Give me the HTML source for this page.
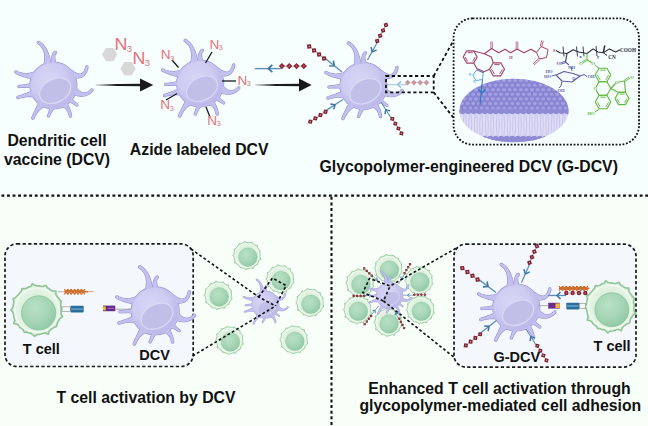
<!DOCTYPE html>
<html><head><meta charset="utf-8"><style>
html,body{margin:0;padding:0;background:#F4FCFC;}
svg{display:block;}
</style></head><body>
<svg width="648" height="426" viewBox="0 0 648 426">
<defs><radialGradient id="bodyg" cx="0.4" cy="0.38" r="0.6"><stop offset="0" stop-color="#D7D6F6"/><stop offset="0.65" stop-color="#CDCBF1"/><stop offset="1" stop-color="#BDBAEA"/></radialGradient><symbol id="dc" overflow="visible"><g fill="#9591D3" stroke="#9591D3" stroke-width="1.1" stroke-linejoin="round"><path d="M-3.60,-11.40 L-2.25,-18.86 L-2.52,-21.01 L-2.84,-23.12 L-3.21,-25.14 L-3.62,-27.07 L-4.09,-28.90 L-4.62,-30.64 L-5.19,-32.29 L-5.83,-33.85 L-6.52,-35.32 L-7.27,-36.70 L-8.08,-38.01 L-8.95,-39.22 L-9.89,-40.36 L-10.90,-41.41 L-11.98,-42.38 L-13.13,-43.27 L-14.31,-44.04 L-14.93,-44.25 L-15.56,-44.12 L-16.04,-43.69 L-16.25,-43.07 L-16.12,-42.44 L-15.69,-41.96 L-14.59,-41.24 L-13.62,-40.46 L-12.72,-39.60 L-11.91,-38.66 L-11.18,-37.64 L-10.54,-36.53 L-9.99,-35.34 L-9.53,-34.07 L-9.16,-32.72 L-8.89,-31.29 L-8.71,-29.78 L-8.63,-28.20 L-8.65,-26.54 L-8.77,-24.81 L-8.99,-23.01 L-9.32,-21.15 L-9.75,-19.14Z"/><path d="M0.30,-12.00 L3.45,-20.53 L2.99,-21.66 L2.60,-22.71 L2.26,-23.72 L1.98,-24.67 L1.75,-25.58 L1.58,-26.43 L1.46,-27.23 L1.40,-27.97 L1.38,-28.66 L1.42,-29.29 L1.49,-29.86 L1.61,-30.37 L1.77,-30.82 L1.96,-31.20 L2.18,-31.53 L2.43,-31.80 L2.76,-32.07 L3.12,-32.58 L3.18,-33.19 L2.93,-33.76 L2.42,-34.12 L1.81,-34.18 L1.24,-33.93 L0.79,-33.56 L0.32,-33.07 L-0.09,-32.53 L-0.46,-31.94 L-0.78,-31.30 L-1.06,-30.61 L-1.31,-29.88 L-1.53,-29.09 L-1.73,-28.25 L-1.89,-27.35 L-2.03,-26.40 L-2.15,-25.39 L-2.25,-24.33 L-2.33,-23.20 L-2.39,-22.01 L-2.43,-20.75 L-2.45,-19.47Z"/><path d="M10.20,-7.20 L15.52,-8.83 L17.34,-8.33 L19.15,-7.93 L20.87,-7.65 L22.50,-7.51 L24.04,-7.50 L25.50,-7.64 L26.86,-7.92 L28.12,-8.36 L29.28,-8.94 L30.32,-9.67 L31.25,-10.53 L32.06,-11.52 L32.77,-12.63 L33.38,-13.86 L33.90,-15.21 L34.33,-16.68 L34.67,-18.24 L34.64,-18.86 L34.31,-19.39 L33.76,-19.67 L33.14,-19.64 L32.61,-19.31 L32.33,-18.76 L32.00,-17.28 L31.61,-16.00 L31.14,-14.89 L30.60,-13.93 L30.01,-13.14 L29.36,-12.52 L28.66,-12.05 L27.92,-11.73 L27.14,-11.55 L26.30,-11.50 L25.40,-11.59 L24.44,-11.81 L23.40,-12.17 L22.29,-12.68 L21.12,-13.35 L19.87,-14.16 L18.48,-15.17Z"/><path d="M12.00,3.00 L17.73,8.29 L19.31,8.91 L20.93,9.47 L22.49,9.93 L24.00,10.29 L25.45,10.54 L26.86,10.68 L28.22,10.72 L29.53,10.65 L30.80,10.47 L32.01,10.18 L33.18,9.79 L34.31,9.30 L35.40,8.70 L36.45,8.00 L37.46,7.21 L38.45,6.30 L39.37,5.33 L39.67,4.78 L39.65,4.16 L39.33,3.63 L38.78,3.33 L38.16,3.35 L37.63,3.67 L36.77,4.58 L35.91,5.34 L35.04,5.97 L34.16,6.47 L33.26,6.85 L32.36,7.10 L31.45,7.22 L30.54,7.23 L29.62,7.10 L28.71,6.86 L27.79,6.50 L26.88,6.02 L25.97,5.41 L25.06,4.68 L24.15,3.84 L23.25,2.86 L22.27,1.71Z"/><path d="M9.60,8.40 L14.50,16.00 L15.09,16.20 L15.66,16.40 L16.22,16.62 L16.77,16.84 L17.31,17.08 L17.83,17.32 L18.34,17.57 L18.83,17.83 L19.32,18.10 L19.79,18.37 L20.26,18.65 L20.71,18.93 L21.16,19.22 L21.59,19.51 L22.02,19.80 L22.45,20.10 L22.86,20.39 L23.39,20.59 L23.95,20.50 L24.39,20.14 L24.59,19.61 L24.50,19.05 L24.14,18.61 L23.73,18.31 L23.32,18.01 L22.90,17.70 L22.49,17.37 L22.08,17.04 L21.68,16.70 L21.27,16.34 L20.87,15.98 L20.47,15.60 L20.08,15.20 L19.69,14.79 L19.31,14.37 L18.94,13.93 L18.57,13.47 L18.20,13.00 L17.85,12.51 L17.50,12.00Z"/><path d="M6.00,10.80 L7.87,20.46 L8.70,20.80 L9.46,21.14 L10.17,21.53 L10.84,21.96 L11.48,22.43 L12.08,22.95 L12.63,23.50 L13.15,24.08 L13.62,24.70 L14.04,25.36 L14.42,26.04 L14.76,26.75 L15.06,27.49 L15.31,28.25 L15.51,29.03 L15.68,29.83 L15.81,30.68 L16.06,31.25 L16.57,31.62 L17.18,31.69 L17.75,31.44 L18.12,30.93 L18.19,30.32 L18.05,29.42 L17.88,28.51 L17.68,27.61 L17.45,26.73 L17.20,25.86 L16.92,25.00 L16.62,24.14 L16.29,23.29 L15.93,22.44 L15.55,21.59 L15.15,20.74 L14.71,19.88 L14.25,19.02 L13.76,18.16 L13.23,17.28 L12.67,16.40 L12.13,15.54Z"/><path d="M-0.60,12.60 L-3.32,20.07 L-3.37,20.73 L-3.44,21.37 L-3.52,22.01 L-3.62,22.64 L-3.74,23.26 L-3.86,23.87 L-4.01,24.47 L-4.16,25.06 L-4.33,25.64 L-4.51,26.22 L-4.69,26.79 L-4.89,27.35 L-5.10,27.90 L-5.32,28.45 L-5.54,28.99 L-5.77,29.52 L-6.01,30.05 L-6.09,30.62 L-5.89,31.15 L-5.45,31.51 L-4.88,31.59 L-4.35,31.39 L-3.99,30.95 L-3.76,30.41 L-3.52,29.88 L-3.27,29.34 L-3.01,28.81 L-2.75,28.27 L-2.48,27.73 L-2.20,27.20 L-1.91,26.66 L-1.60,26.13 L-1.29,25.60 L-0.96,25.07 L-0.62,24.54 L-0.26,24.01 L0.11,23.49 L0.50,22.97 L0.90,22.45 L1.32,21.93Z"/><path d="M-6.60,10.80 L-13.68,15.38 L-14.15,16.38 L-14.65,17.39 L-15.14,18.39 L-15.62,19.37 L-16.10,20.35 L-16.58,21.32 L-17.05,22.28 L-17.52,23.24 L-17.99,24.20 L-18.46,25.16 L-18.92,26.12 L-19.38,27.08 L-19.84,28.06 L-20.29,29.04 L-20.74,30.03 L-21.18,31.03 L-21.60,32.03 L-21.69,32.65 L-21.46,33.22 L-20.97,33.60 L-20.35,33.69 L-19.78,33.46 L-19.40,32.97 L-18.98,31.99 L-18.54,31.04 L-18.08,30.12 L-17.59,29.22 L-17.07,28.35 L-16.51,27.50 L-15.93,26.69 L-15.31,25.91 L-14.67,25.16 L-13.98,24.45 L-13.27,23.78 L-12.53,23.14 L-11.75,22.55 L-10.94,22.00 L-10.11,21.50 L-9.24,21.05 L-8.32,20.62Z"/><path d="M-11.40,4.80 L-19.59,4.55 L-20.60,5.05 L-21.62,5.53 L-22.62,5.99 L-23.62,6.43 L-24.61,6.85 L-25.59,7.25 L-26.56,7.64 L-27.52,8.01 L-28.48,8.36 L-29.43,8.71 L-30.37,9.04 L-31.31,9.36 L-32.24,9.67 L-33.16,9.97 L-34.07,10.27 L-34.98,10.57 L-35.87,10.86 L-36.39,11.20 L-36.67,11.75 L-36.64,12.37 L-36.30,12.89 L-35.75,13.17 L-35.13,13.14 L-34.24,12.85 L-33.36,12.58 L-32.45,12.33 L-31.54,12.09 L-30.61,11.88 L-29.67,11.68 L-28.71,11.52 L-27.74,11.37 L-26.75,11.26 L-25.75,11.17 L-24.74,11.11 L-23.72,11.09 L-22.68,11.09 L-21.64,11.13 L-20.58,11.20 L-19.51,11.31 L-18.41,11.45Z"/><path d="M-12.60,0.00 L-21.18,-2.49 L-21.99,-2.24 L-22.79,-2.00 L-23.60,-1.78 L-24.40,-1.58 L-25.20,-1.39 L-25.99,-1.21 L-26.79,-1.06 L-27.58,-0.91 L-28.37,-0.78 L-29.16,-0.66 L-29.94,-0.55 L-30.72,-0.46 L-31.50,-0.37 L-32.27,-0.29 L-33.05,-0.22 L-33.82,-0.16 L-34.58,-0.10 L-35.12,0.09 L-35.49,0.52 L-35.60,1.08 L-35.41,1.62 L-34.98,1.99 L-34.42,2.10 L-33.65,2.04 L-32.88,1.99 L-32.11,1.94 L-31.33,1.90 L-30.55,1.87 L-29.76,1.85 L-28.97,1.84 L-28.17,1.84 L-27.38,1.85 L-26.57,1.88 L-25.76,1.92 L-24.95,1.98 L-24.13,2.05 L-23.31,2.13 L-22.49,2.24 L-21.66,2.36 L-20.82,2.49Z"/><path d="M-10.80,-6.00 L-18.28,-13.99 L-19.60,-13.50 L-20.86,-13.09 L-22.10,-12.74 L-23.33,-12.46 L-24.53,-12.26 L-25.72,-12.11 L-26.88,-12.04 L-28.02,-12.03 L-29.13,-12.08 L-30.21,-12.19 L-31.26,-12.36 L-32.29,-12.59 L-33.27,-12.88 L-34.23,-13.22 L-35.15,-13.61 L-36.03,-14.05 L-36.91,-14.54 L-37.51,-14.70 L-38.11,-14.54 L-38.54,-14.09 L-38.70,-13.49 L-38.54,-12.89 L-38.09,-12.46 L-37.17,-11.93 L-36.20,-11.42 L-35.20,-10.95 L-34.17,-10.49 L-33.11,-10.06 L-32.03,-9.65 L-30.91,-9.26 L-29.76,-8.89 L-28.58,-8.53 L-27.36,-8.18 L-26.10,-7.84 L-24.81,-7.52 L-23.47,-7.20 L-22.09,-6.90 L-20.66,-6.59 L-19.19,-6.30 L-17.72,-6.01Z"/><circle cx="0" cy="0" r="23.5"/></g><g fill="#C2C0EC"><path d="M-3.60,-11.40 L-2.25,-18.86 L-2.52,-21.01 L-2.84,-23.12 L-3.21,-25.14 L-3.62,-27.07 L-4.09,-28.90 L-4.62,-30.64 L-5.19,-32.29 L-5.83,-33.85 L-6.52,-35.32 L-7.27,-36.70 L-8.08,-38.01 L-8.95,-39.22 L-9.89,-40.36 L-10.90,-41.41 L-11.98,-42.38 L-13.13,-43.27 L-14.31,-44.04 L-14.93,-44.25 L-15.56,-44.12 L-16.04,-43.69 L-16.25,-43.07 L-16.12,-42.44 L-15.69,-41.96 L-14.59,-41.24 L-13.62,-40.46 L-12.72,-39.60 L-11.91,-38.66 L-11.18,-37.64 L-10.54,-36.53 L-9.99,-35.34 L-9.53,-34.07 L-9.16,-32.72 L-8.89,-31.29 L-8.71,-29.78 L-8.63,-28.20 L-8.65,-26.54 L-8.77,-24.81 L-8.99,-23.01 L-9.32,-21.15 L-9.75,-19.14Z"/><path d="M0.30,-12.00 L3.45,-20.53 L2.99,-21.66 L2.60,-22.71 L2.26,-23.72 L1.98,-24.67 L1.75,-25.58 L1.58,-26.43 L1.46,-27.23 L1.40,-27.97 L1.38,-28.66 L1.42,-29.29 L1.49,-29.86 L1.61,-30.37 L1.77,-30.82 L1.96,-31.20 L2.18,-31.53 L2.43,-31.80 L2.76,-32.07 L3.12,-32.58 L3.18,-33.19 L2.93,-33.76 L2.42,-34.12 L1.81,-34.18 L1.24,-33.93 L0.79,-33.56 L0.32,-33.07 L-0.09,-32.53 L-0.46,-31.94 L-0.78,-31.30 L-1.06,-30.61 L-1.31,-29.88 L-1.53,-29.09 L-1.73,-28.25 L-1.89,-27.35 L-2.03,-26.40 L-2.15,-25.39 L-2.25,-24.33 L-2.33,-23.20 L-2.39,-22.01 L-2.43,-20.75 L-2.45,-19.47Z"/><path d="M10.20,-7.20 L15.52,-8.83 L17.34,-8.33 L19.15,-7.93 L20.87,-7.65 L22.50,-7.51 L24.04,-7.50 L25.50,-7.64 L26.86,-7.92 L28.12,-8.36 L29.28,-8.94 L30.32,-9.67 L31.25,-10.53 L32.06,-11.52 L32.77,-12.63 L33.38,-13.86 L33.90,-15.21 L34.33,-16.68 L34.67,-18.24 L34.64,-18.86 L34.31,-19.39 L33.76,-19.67 L33.14,-19.64 L32.61,-19.31 L32.33,-18.76 L32.00,-17.28 L31.61,-16.00 L31.14,-14.89 L30.60,-13.93 L30.01,-13.14 L29.36,-12.52 L28.66,-12.05 L27.92,-11.73 L27.14,-11.55 L26.30,-11.50 L25.40,-11.59 L24.44,-11.81 L23.40,-12.17 L22.29,-12.68 L21.12,-13.35 L19.87,-14.16 L18.48,-15.17Z"/><path d="M12.00,3.00 L17.73,8.29 L19.31,8.91 L20.93,9.47 L22.49,9.93 L24.00,10.29 L25.45,10.54 L26.86,10.68 L28.22,10.72 L29.53,10.65 L30.80,10.47 L32.01,10.18 L33.18,9.79 L34.31,9.30 L35.40,8.70 L36.45,8.00 L37.46,7.21 L38.45,6.30 L39.37,5.33 L39.67,4.78 L39.65,4.16 L39.33,3.63 L38.78,3.33 L38.16,3.35 L37.63,3.67 L36.77,4.58 L35.91,5.34 L35.04,5.97 L34.16,6.47 L33.26,6.85 L32.36,7.10 L31.45,7.22 L30.54,7.23 L29.62,7.10 L28.71,6.86 L27.79,6.50 L26.88,6.02 L25.97,5.41 L25.06,4.68 L24.15,3.84 L23.25,2.86 L22.27,1.71Z"/><path d="M9.60,8.40 L14.50,16.00 L15.09,16.20 L15.66,16.40 L16.22,16.62 L16.77,16.84 L17.31,17.08 L17.83,17.32 L18.34,17.57 L18.83,17.83 L19.32,18.10 L19.79,18.37 L20.26,18.65 L20.71,18.93 L21.16,19.22 L21.59,19.51 L22.02,19.80 L22.45,20.10 L22.86,20.39 L23.39,20.59 L23.95,20.50 L24.39,20.14 L24.59,19.61 L24.50,19.05 L24.14,18.61 L23.73,18.31 L23.32,18.01 L22.90,17.70 L22.49,17.37 L22.08,17.04 L21.68,16.70 L21.27,16.34 L20.87,15.98 L20.47,15.60 L20.08,15.20 L19.69,14.79 L19.31,14.37 L18.94,13.93 L18.57,13.47 L18.20,13.00 L17.85,12.51 L17.50,12.00Z"/><path d="M6.00,10.80 L7.87,20.46 L8.70,20.80 L9.46,21.14 L10.17,21.53 L10.84,21.96 L11.48,22.43 L12.08,22.95 L12.63,23.50 L13.15,24.08 L13.62,24.70 L14.04,25.36 L14.42,26.04 L14.76,26.75 L15.06,27.49 L15.31,28.25 L15.51,29.03 L15.68,29.83 L15.81,30.68 L16.06,31.25 L16.57,31.62 L17.18,31.69 L17.75,31.44 L18.12,30.93 L18.19,30.32 L18.05,29.42 L17.88,28.51 L17.68,27.61 L17.45,26.73 L17.20,25.86 L16.92,25.00 L16.62,24.14 L16.29,23.29 L15.93,22.44 L15.55,21.59 L15.15,20.74 L14.71,19.88 L14.25,19.02 L13.76,18.16 L13.23,17.28 L12.67,16.40 L12.13,15.54Z"/><path d="M-0.60,12.60 L-3.32,20.07 L-3.37,20.73 L-3.44,21.37 L-3.52,22.01 L-3.62,22.64 L-3.74,23.26 L-3.86,23.87 L-4.01,24.47 L-4.16,25.06 L-4.33,25.64 L-4.51,26.22 L-4.69,26.79 L-4.89,27.35 L-5.10,27.90 L-5.32,28.45 L-5.54,28.99 L-5.77,29.52 L-6.01,30.05 L-6.09,30.62 L-5.89,31.15 L-5.45,31.51 L-4.88,31.59 L-4.35,31.39 L-3.99,30.95 L-3.76,30.41 L-3.52,29.88 L-3.27,29.34 L-3.01,28.81 L-2.75,28.27 L-2.48,27.73 L-2.20,27.20 L-1.91,26.66 L-1.60,26.13 L-1.29,25.60 L-0.96,25.07 L-0.62,24.54 L-0.26,24.01 L0.11,23.49 L0.50,22.97 L0.90,22.45 L1.32,21.93Z"/><path d="M-6.60,10.80 L-13.68,15.38 L-14.15,16.38 L-14.65,17.39 L-15.14,18.39 L-15.62,19.37 L-16.10,20.35 L-16.58,21.32 L-17.05,22.28 L-17.52,23.24 L-17.99,24.20 L-18.46,25.16 L-18.92,26.12 L-19.38,27.08 L-19.84,28.06 L-20.29,29.04 L-20.74,30.03 L-21.18,31.03 L-21.60,32.03 L-21.69,32.65 L-21.46,33.22 L-20.97,33.60 L-20.35,33.69 L-19.78,33.46 L-19.40,32.97 L-18.98,31.99 L-18.54,31.04 L-18.08,30.12 L-17.59,29.22 L-17.07,28.35 L-16.51,27.50 L-15.93,26.69 L-15.31,25.91 L-14.67,25.16 L-13.98,24.45 L-13.27,23.78 L-12.53,23.14 L-11.75,22.55 L-10.94,22.00 L-10.11,21.50 L-9.24,21.05 L-8.32,20.62Z"/><path d="M-11.40,4.80 L-19.59,4.55 L-20.60,5.05 L-21.62,5.53 L-22.62,5.99 L-23.62,6.43 L-24.61,6.85 L-25.59,7.25 L-26.56,7.64 L-27.52,8.01 L-28.48,8.36 L-29.43,8.71 L-30.37,9.04 L-31.31,9.36 L-32.24,9.67 L-33.16,9.97 L-34.07,10.27 L-34.98,10.57 L-35.87,10.86 L-36.39,11.20 L-36.67,11.75 L-36.64,12.37 L-36.30,12.89 L-35.75,13.17 L-35.13,13.14 L-34.24,12.85 L-33.36,12.58 L-32.45,12.33 L-31.54,12.09 L-30.61,11.88 L-29.67,11.68 L-28.71,11.52 L-27.74,11.37 L-26.75,11.26 L-25.75,11.17 L-24.74,11.11 L-23.72,11.09 L-22.68,11.09 L-21.64,11.13 L-20.58,11.20 L-19.51,11.31 L-18.41,11.45Z"/><path d="M-12.60,0.00 L-21.18,-2.49 L-21.99,-2.24 L-22.79,-2.00 L-23.60,-1.78 L-24.40,-1.58 L-25.20,-1.39 L-25.99,-1.21 L-26.79,-1.06 L-27.58,-0.91 L-28.37,-0.78 L-29.16,-0.66 L-29.94,-0.55 L-30.72,-0.46 L-31.50,-0.37 L-32.27,-0.29 L-33.05,-0.22 L-33.82,-0.16 L-34.58,-0.10 L-35.12,0.09 L-35.49,0.52 L-35.60,1.08 L-35.41,1.62 L-34.98,1.99 L-34.42,2.10 L-33.65,2.04 L-32.88,1.99 L-32.11,1.94 L-31.33,1.90 L-30.55,1.87 L-29.76,1.85 L-28.97,1.84 L-28.17,1.84 L-27.38,1.85 L-26.57,1.88 L-25.76,1.92 L-24.95,1.98 L-24.13,2.05 L-23.31,2.13 L-22.49,2.24 L-21.66,2.36 L-20.82,2.49Z"/><path d="M-10.80,-6.00 L-18.28,-13.99 L-19.60,-13.50 L-20.86,-13.09 L-22.10,-12.74 L-23.33,-12.46 L-24.53,-12.26 L-25.72,-12.11 L-26.88,-12.04 L-28.02,-12.03 L-29.13,-12.08 L-30.21,-12.19 L-31.26,-12.36 L-32.29,-12.59 L-33.27,-12.88 L-34.23,-13.22 L-35.15,-13.61 L-36.03,-14.05 L-36.91,-14.54 L-37.51,-14.70 L-38.11,-14.54 L-38.54,-14.09 L-38.70,-13.49 L-38.54,-12.89 L-38.09,-12.46 L-37.17,-11.93 L-36.20,-11.42 L-35.20,-10.95 L-34.17,-10.49 L-33.11,-10.06 L-32.03,-9.65 L-30.91,-9.26 L-29.76,-8.89 L-28.58,-8.53 L-27.36,-8.18 L-26.10,-7.84 L-24.81,-7.52 L-23.47,-7.20 L-22.09,-6.90 L-20.66,-6.59 L-19.19,-6.30 L-17.72,-6.01Z"/><circle cx="0" cy="0" r="23.5"/></g><circle cx="0" cy="0" r="22.5" fill="url(#bodyg)"/><ellipse cx="1.8" cy="5.2" rx="16.5" ry="11.5" transform="rotate(-28 1.8 5.2)" fill="#C1BFE8" stroke="#DAD9F5" stroke-width="1.2"/></symbol><radialGradient id="nucg" cx="0.4" cy="0.35" r="0.65"><stop offset="0" stop-color="#B8E0C5"/><stop offset="0.6" stop-color="#A7D6B7"/><stop offset="1" stop-color="#94CAA7"/></radialGradient><radialGradient id="outg" cx="0.5" cy="0.5" r="0.5"><stop offset="0.55" stop-color="#DCEFDD"/><stop offset="0.85" stop-color="#E6F4E6"/><stop offset="1" stop-color="#CDE8CF"/></radialGradient><symbol id="tc" overflow="visible"><path d="M13.13,0.00 L13.01,1.14 L13.22,2.33 L13.94,3.73 L12.58,4.58 L11.91,5.56 L11.28,6.51 L10.90,7.63 L10.66,8.94 L9.39,9.39 L8.37,9.98 L7.48,10.68 L6.66,11.53 L6.14,13.17 L4.51,12.40 L3.39,12.64 L2.30,13.05 L1.17,13.33 L0.00,13.39 L-1.26,14.40 L-2.35,13.34 L-3.37,12.58 L-4.56,12.54 L-5.59,11.98 L-6.98,12.09 L-7.55,10.78 L-8.44,10.05 L-9.42,9.42 L-10.01,8.40 L-10.98,7.69 L-12.69,7.33 L-12.07,5.63 L-12.42,4.52 L-12.58,3.37 L-12.83,2.26 L-13.15,1.15 L-14.27,0.00 L-13.24,-1.16 L-12.93,-2.28 L-12.78,-3.43 L-12.53,-4.56 L-13.07,-6.09 L-11.67,-6.74 L-10.88,-7.62 L-10.03,-8.42 L-9.35,-9.35 L-8.56,-10.20 L-8.17,-11.67 L-6.70,-11.60 L-5.54,-11.89 L-4.58,-12.58 L-3.42,-12.76 L-2.53,-14.35 L-1.17,-13.42 L-0.00,-13.06 L1.15,-13.15 L2.26,-12.82 L3.46,-12.93 L4.89,-13.44 L5.64,-12.10 L6.68,-11.56 L7.53,-10.75 L8.64,-10.29 L10.28,-10.28 L10.26,-8.61 L10.80,-7.56 L11.55,-6.67 L12.22,-5.70 L13.24,-4.82 L12.92,-3.46 L12.83,-2.26 L13.23,-1.16Z" fill="url(#outg)" stroke="#8FC596" stroke-width="0.85" stroke-linejoin="round"/><circle r="12" fill="none" stroke="#F2FAF2" stroke-width="0.8" opacity="0.8"/><circle cx="0.9" cy="1.6" r="9.3" fill="url(#nucg)" stroke="#8EC69E" stroke-width="0.5"/></symbol><symbol id="gp" overflow="visible"><g><line x1="0" y1="0" x2="21" y2="0" stroke="#5B8DB8" stroke-width="1.3"/><path d="M13.8,-3.4 L10,0 L13.8,3.4" fill="none" stroke="#3D74A3" stroke-width="1.6" stroke-linejoin="round"/><line x1="20" y1="-0.8" x2="45" y2="-0.8" stroke="#999" stroke-width="0.6"/><rect x="20.45" y="-2.85" width="4.1" height="4.1" rx="0.6" transform="rotate(45 22.50 -0.8)" fill="#80202F"/><circle cx="22.50" cy="-0.8" r="0.8" fill="#D08890"/><rect x="26.80" y="-2.85" width="4.1" height="4.1" rx="0.6" transform="rotate(45 28.85 -0.8)" fill="#80202F"/><circle cx="28.85" cy="-0.8" r="0.8" fill="#D08890"/><rect x="33.15" y="-2.85" width="4.1" height="4.1" rx="0.6" transform="rotate(45 35.20 -0.8)" fill="#80202F"/><circle cx="35.20" cy="-0.8" r="0.8" fill="#D08890"/><rect x="39.50" y="-2.85" width="4.1" height="4.1" rx="0.6" transform="rotate(45 41.55 -0.8)" fill="#80202F"/><circle cx="41.55" cy="-0.8" r="0.8" fill="#D08890"/></g></symbol><symbol id="gpf" overflow="visible"><g opacity="0.45"><line x1="0" y1="0" x2="21" y2="0" stroke="#5B8DB8" stroke-width="1.3"/><path d="M13.8,-3.4 L10,0 L13.8,3.4" fill="none" stroke="#3D74A3" stroke-width="1.6" stroke-linejoin="round"/><line x1="20" y1="-0.8" x2="45" y2="-0.8" stroke="#999" stroke-width="0.6"/><rect x="20.45" y="-2.85" width="4.1" height="4.1" rx="0.6" transform="rotate(45 22.50 -0.8)" fill="#80202F"/><circle cx="22.50" cy="-0.8" r="0.8" fill="#D08890"/><rect x="26.80" y="-2.85" width="4.1" height="4.1" rx="0.6" transform="rotate(45 28.85 -0.8)" fill="#80202F"/><circle cx="28.85" cy="-0.8" r="0.8" fill="#D08890"/><rect x="33.15" y="-2.85" width="4.1" height="4.1" rx="0.6" transform="rotate(45 35.20 -0.8)" fill="#80202F"/><circle cx="35.20" cy="-0.8" r="0.8" fill="#D08890"/><rect x="39.50" y="-2.85" width="4.1" height="4.1" rx="0.6" transform="rotate(45 41.55 -0.8)" fill="#80202F"/><circle cx="41.55" cy="-0.8" r="0.8" fill="#D08890"/></g></symbol><linearGradient id="ag" x1="0" x2="1"><stop offset="0" stop-color="#1a1a1a" stop-opacity="0.15"/><stop offset="0.45" stop-color="#1a1a1a"/></linearGradient></defs>
<rect x="0" y="0" width="648" height="196" fill="#F6FEFE"/>
<rect x="0" y="196" width="648" height="230" fill="#F8FFF8"/>
<line x1="1.45" y1="195.6" x2="648" y2="195.6" stroke="#111" stroke-width="2.3" stroke-dasharray="2.9 2.65"/>
<line x1="331.5" y1="196.8" x2="331.5" y2="426" stroke="#111" stroke-width="2.1" stroke-dasharray="3 2.63"/>
<use href="#dc" transform="translate(53.4 85.5) rotate(0) scale(1.0)"/>
<polygon points="117.30,54.60 113.50,61.18 105.90,61.18 102.10,54.60 105.90,48.02 113.50,48.02" fill="#D8D8D8"/>
<polygon points="135.70,68.60 131.90,75.18 124.30,75.18 120.50,68.60 124.30,62.02 131.90,62.02" fill="#D8D8D8"/>
<text x="114.5" y="50.5" font-family="Liberation Sans" font-size="17" fill="#E07479" transform="translate(114.5 50.5) scale(1.05 1) translate(-114.5 -50.5)">N</text><text x="126.74" y="52.20" font-family="Liberation Sans" font-size="9.52" fill="#E07479">3</text>
<text x="132.5" y="64.5" font-family="Liberation Sans" font-size="17" fill="#E07479" transform="translate(132.5 64.5) scale(1.05 1) translate(-132.5 -64.5)">N</text><text x="144.74" y="66.20" font-family="Liberation Sans" font-size="9.52" fill="#E07479">3</text>
<path d="M95.7,84.3 L142,83.7 L142,86.3 L95.7,85.7Z" fill="url(#ag)"/><path d="M140,78.5 L153.3,85 L140,91.5Z" fill="#1a1a1a"/>
<path d="M254.8,84.3 L301,83.7 L301,86.3 L254.8,85.7Z" fill="url(#ag)"/><path d="M299,78.5 L311.6,85 L299,91.5Z" fill="#1a1a1a"/>
<use href="#dc" transform="translate(200.2 83.5) rotate(0) scale(1.0)"/>
<line x1="172" y1="60" x2="178.5" y2="67.5" stroke="#1a1a1a" stroke-width="1.3"/>
<line x1="212" y1="52" x2="205.5" y2="63" stroke="#1a1a1a" stroke-width="1.3"/>
<line x1="222" y1="81" x2="236" y2="81" stroke="#1a1a1a" stroke-width="1.3"/>
<line x1="166" y1="100" x2="177" y2="93.5" stroke="#1a1a1a" stroke-width="1.3"/>
<line x1="206" y1="107" x2="210" y2="117" stroke="#1a1a1a" stroke-width="1.3"/>
<text x="160.8" y="59.5" font-family="Liberation Sans" font-size="13" fill="#E07479" transform="translate(160.8 59.5) scale(1.05 1) translate(-160.8 -59.5)">N</text><text x="170.16" y="60.80" font-family="Liberation Sans" font-size="7.28" fill="#E07479">3</text>
<text x="209.5" y="49" font-family="Liberation Sans" font-size="13" fill="#E07479" transform="translate(209.5 49) scale(1.05 1) translate(-209.5 -49)">N</text><text x="218.86" y="50.30" font-family="Liberation Sans" font-size="7.28" fill="#E07479">3</text>
<text x="237.5" y="85" font-family="Liberation Sans" font-size="13" fill="#E07479" transform="translate(237.5 85) scale(1.05 1) translate(-237.5 -85)">N</text><text x="246.86" y="86.30" font-family="Liberation Sans" font-size="7.28" fill="#E07479">3</text>
<text x="160.3" y="109.5" font-family="Liberation Sans" font-size="13" fill="#E07479" transform="translate(160.3 109.5) scale(1.05 1) translate(-160.3 -109.5)">N</text><text x="169.66" y="110.80" font-family="Liberation Sans" font-size="7.28" fill="#E07479">3</text>
<text x="207.3" y="125" font-family="Liberation Sans" font-size="13" fill="#E07479" transform="translate(207.3 125) scale(1.05 1) translate(-207.3 -125)">N</text><text x="216.66" y="126.30" font-family="Liberation Sans" font-size="7.28" fill="#E07479">3</text>
<g transform="translate(254.8 68.6) scale(1.13)"><line x1="0" y1="0" x2="23" y2="0" stroke="#5B8DB8" stroke-width="1.2"/><path d="M15.5,-3.2 L12,0 L15.5,3.2" fill="none" stroke="#3D74A3" stroke-width="1.5"/><line x1="23" y1="-2.2" x2="46" y2="-2.2" stroke="#999" stroke-width="0.6"/><rect x="22.10" y="-4.1" width="3.8" height="3.8" transform="rotate(45 24.00 -2.2)" fill="#8A2233"/><circle cx="24.00" cy="-2.2" r="0.8" fill="#C06070"/><rect x="28.55" y="-4.1" width="3.8" height="3.8" transform="rotate(45 30.45 -2.2)" fill="#8A2233"/><circle cx="30.45" cy="-2.2" r="0.8" fill="#C06070"/><rect x="35.00" y="-4.1" width="3.8" height="3.8" transform="rotate(45 36.90 -2.2)" fill="#8A2233"/><circle cx="36.90" cy="-2.2" r="0.8" fill="#C06070"/><rect x="41.45" y="-4.1" width="3.8" height="3.8" transform="rotate(45 43.35 -2.2)" fill="#8A2233"/><circle cx="43.35" cy="-2.2" r="0.8" fill="#C06070"/></g>
<use href="#dc" transform="translate(363.5 86) rotate(0) scale(1.0)"/>
<use href="#gp" transform="translate(342 72) rotate(219) scale(1.0)"/>
<use href="#gp" transform="translate(367.5 60) rotate(-61) scale(0.95)"/>
<use href="#gp" transform="translate(343 99.5) rotate(147) scale(0.95)"/>
<use href="#gp" transform="translate(381 102) rotate(58) scale(0.9)"/>
<rect x="386" y="76" width="47.7" height="16.3" fill="none" stroke="#111" stroke-width="1.8" stroke-dasharray="3.2 2.6"/>
<g opacity="0.5" transform="translate(386 84.6)"><line x1="0" y1="0" x2="21" y2="0" stroke="#6FA0C8" stroke-width="1.3"/><path d="M15,-3.2 L11.6,0 L15,3.2" fill="none" stroke="#4A88B8" stroke-width="1.5"/><line x1="20" y1="-2" x2="44" y2="-2" stroke="#aaa" stroke-width="0.6"/><rect x="19.60" y="-4" width="4" height="4" transform="rotate(45 21.60 -2)" fill="#A0303F"/><rect x="25.90" y="-4" width="4" height="4" transform="rotate(45 27.90 -2)" fill="#A0303F"/><rect x="32.20" y="-4" width="4" height="4" transform="rotate(45 34.20 -2)" fill="#A0303F"/><rect x="38.50" y="-4" width="4" height="4" transform="rotate(45 40.50 -2)" fill="#A0303F"/></g>
<line x1="433.7" y1="76" x2="454" y2="39.6" stroke="#111" stroke-width="1.8" stroke-dasharray="3.2 2.6"/>
<line x1="433.7" y1="92.3" x2="454" y2="118.5" stroke="#111" stroke-width="1.8" stroke-dasharray="3.2 2.6"/>
<rect x="453.6" y="18.4" width="185.4" height="126.2" rx="19" fill="#F7FEFE" stroke="#111" stroke-width="1.8" stroke-dasharray="1.8 1.7"/>
<defs>
<pattern id="spheres" x="0" y="0" width="5.6" height="9.2" patternUnits="userSpaceOnUse">
<rect width="5.6" height="9.2" fill="#8681CF"/>
<circle cx="2.8" cy="2.3" r="1.95" fill="#A3A0E3"/>
<circle cx="0" cy="6.9" r="1.95" fill="#A3A0E3"/><circle cx="5.6" cy="6.9" r="1.95" fill="#A3A0E3"/>
</pattern>
<pattern id="tails" x="0" y="114" width="5.5" height="22" patternUnits="userSpaceOnUse">
<rect width="5.5" height="22" fill="#E0DEF6"/>
<path d="M1.9,0 L1.2,11 L1.9,22 M3.6,0 L4.3,11 L3.6,22" stroke="#BCB9E8" stroke-width="0.8" fill="none"/>
</pattern>
<clipPath id="memclip"><ellipse cx="514" cy="110.5" rx="54.5" ry="31.8"/></clipPath>
</defs>
<g clip-path="url(#memclip)">
<rect x="455" y="78" width="120" height="36" fill="url(#spheres)"/>
<rect x="455" y="113" width="120" height="24" fill="url(#tails)"/>
<g fill="#8F8BD5"><circle cx="457.2" cy="111.6" r="2.7"/><circle cx="462.7" cy="111.6" r="2.7"/><circle cx="468.2" cy="111.6" r="2.7"/><circle cx="473.7" cy="111.6" r="2.7"/><circle cx="479.2" cy="111.6" r="2.7"/><circle cx="484.7" cy="111.6" r="2.7"/><circle cx="490.2" cy="111.6" r="2.7"/><circle cx="495.7" cy="111.6" r="2.7"/><circle cx="501.2" cy="111.6" r="2.7"/><circle cx="506.7" cy="111.6" r="2.7"/><circle cx="512.2" cy="111.6" r="2.7"/><circle cx="517.7" cy="111.6" r="2.7"/><circle cx="523.2" cy="111.6" r="2.7"/><circle cx="528.7" cy="111.6" r="2.7"/><circle cx="534.2" cy="111.6" r="2.7"/><circle cx="539.7" cy="111.6" r="2.7"/><circle cx="545.2" cy="111.6" r="2.7"/><circle cx="550.7" cy="111.6" r="2.7"/><circle cx="556.2" cy="111.6" r="2.7"/><circle cx="561.7" cy="111.6" r="2.7"/><circle cx="567.2" cy="111.6" r="2.7"/><circle cx="572.7" cy="111.6" r="2.7"/></g>
<rect x="455" y="137" width="120" height="8" fill="#8F8BD5"/>
<g fill="#8F8BD5"><circle cx="457.2" cy="138.6" r="2.9"/><circle cx="462.7" cy="138.6" r="2.9"/><circle cx="468.2" cy="138.6" r="2.9"/><circle cx="473.7" cy="138.6" r="2.9"/><circle cx="479.2" cy="138.6" r="2.9"/><circle cx="484.7" cy="138.6" r="2.9"/><circle cx="490.2" cy="138.6" r="2.9"/><circle cx="495.7" cy="138.6" r="2.9"/><circle cx="501.2" cy="138.6" r="2.9"/><circle cx="506.7" cy="138.6" r="2.9"/><circle cx="512.2" cy="138.6" r="2.9"/><circle cx="517.7" cy="138.6" r="2.9"/><circle cx="523.2" cy="138.6" r="2.9"/><circle cx="528.7" cy="138.6" r="2.9"/><circle cx="534.2" cy="138.6" r="2.9"/><circle cx="539.7" cy="138.6" r="2.9"/><circle cx="545.2" cy="138.6" r="2.9"/><circle cx="550.7" cy="138.6" r="2.9"/><circle cx="556.2" cy="138.6" r="2.9"/><circle cx="561.7" cy="138.6" r="2.9"/><circle cx="567.2" cy="138.6" r="2.9"/><circle cx="572.7" cy="138.6" r="2.9"/></g>
</g>
<path d="M477.20,57.00 L473.70,63.06 L466.70,63.06 L463.20,57.00 L466.70,50.94 L473.70,50.94Z" fill="none" stroke="#A2406C" stroke-width="1.15" stroke-linejoin="round"/><line x1="475.24" y1="57.00" x2="472.72" y2="61.36" stroke="#A2406C" stroke-width="0.9199999999999999"/><line x1="467.68" y1="61.36" x2="465.16" y2="57.00" stroke="#A2406C" stroke-width="0.9199999999999999"/><line x1="467.68" y1="52.64" x2="472.72" y2="52.64" stroke="#A2406C" stroke-width="0.9199999999999999"/>
<path d="M504.50,69.30 L500.75,75.80 L493.25,75.80 L489.50,69.30 L493.25,62.80 L500.75,62.80Z" fill="none" stroke="#A2406C" stroke-width="1.15" stroke-linejoin="round"/><line x1="502.40" y1="69.30" x2="499.70" y2="73.98" stroke="#A2406C" stroke-width="0.9199999999999999"/><line x1="494.30" y1="73.98" x2="491.60" y2="69.30" stroke="#A2406C" stroke-width="0.9199999999999999"/><line x1="494.30" y1="64.62" x2="499.70" y2="64.62" stroke="#A2406C" stroke-width="0.9199999999999999"/>
<path d="M473.70,50.94 L484.30,53.70 L491.40,57.00 L493.25,62.80" fill="none" stroke="#A2406C" stroke-width="1.15" stroke-linejoin="round"/>
<path d="M473.70,63.06 L477.30,69.30 L483.40,72.10 L489.50,69.30" fill="none" stroke="#A2406C" stroke-width="1.15" stroke-linejoin="round"/>
<line x1="476.99" y1="69.98" x2="483.09" y2="72.78" stroke="#A2406C" stroke-width="0.9"/><line x1="477.61" y1="68.62" x2="483.71" y2="71.42" stroke="#A2406C" stroke-width="0.9"/>
<path d="M484.30,53.70 L491.60,48.50 L498.70,52.70 L505.00,49.20 L510.60,52.70 L517.00,49.00 L524.00,52.70 L531.00,49.20 L536.50,52.50" fill="none" stroke="#A2406C" stroke-width="1.15" stroke-linejoin="round"/>
<line x1="492.40" y1="48.50" x2="492.40" y2="41.50" stroke="#A2406C" stroke-width="0.7"/><line x1="490.80" y1="48.50" x2="490.80" y2="41.50" stroke="#A2406C" stroke-width="0.7"/>
<line x1="517.80" y1="49.00" x2="517.80" y2="41.50" stroke="#A2406C" stroke-width="0.7"/><line x1="516.20" y1="49.00" x2="516.20" y2="41.50" stroke="#A2406C" stroke-width="0.7"/>
<text x="510.8" y="58.5" font-family="Liberation Serif" font-weight="bold" font-size="4.3" fill="#A2406C" text-anchor="middle">H</text>
<path d="M536.50,52.50 L541.00,46.50 L548.00,49.50 L546.50,57.50 L539.50,59.00Z" fill="none" stroke="#B4405E" stroke-width="1.0" stroke-linejoin="round"/>
<line x1="541.78" y1="46.69" x2="543.28" y2="40.69" stroke="#B4405E" stroke-width="0.8"/><line x1="540.22" y1="46.31" x2="541.72" y2="40.31" stroke="#B4405E" stroke-width="0.8"/>
<line x1="538.96" y1="58.41" x2="532.96" y2="63.91" stroke="#B4405E" stroke-width="0.8"/><line x1="540.04" y1="59.59" x2="534.04" y2="65.09" stroke="#B4405E" stroke-width="0.8"/>
<circle cx="554" cy="49.8" r="2" fill="#F7FEFE"/>
<text x="554" y="51.5" font-family="Liberation Serif" font-weight="bold" font-size="4.8" fill="#A2406C" text-anchor="middle">S</text>
<path d="M556.00,50.50 L560.00,52.70 L567.00,53.50 L573.20,49.70 L578.60,52.00 L587.00,53.50 L593.20,48.90 L597.90,52.00 L603.30,52.70 L609.40,48.90 L615.60,52.00 L620.20,49.70" fill="none" stroke="#2E2E3C" stroke-width="1.1" stroke-linejoin="round"/>
<line x1="563.00" y1="46.50" x2="564.00" y2="56.50" stroke="#2E2E3C" stroke-width="0.9"/>
<line x1="576.50" y1="46.50" x2="577.50" y2="56.50" stroke="#2E2E3C" stroke-width="0.9"/>
<line x1="583.00" y1="46.50" x2="584.00" y2="56.50" stroke="#2E2E3C" stroke-width="0.9"/>
<line x1="596.00" y1="46.00" x2="597.00" y2="56.00" stroke="#2E2E3C" stroke-width="0.9"/>
<text x="580.5" y="58.3" font-family="Liberation Serif" font-weight="bold" font-size="4.4" fill="#2E2E3C" text-anchor="middle">x</text>
<text x="598" y="57.5" font-family="Liberation Serif" font-weight="bold" font-size="4.4" fill="#2E2E3C" text-anchor="middle">y</text>
<text x="612" y="59" font-family="Liberation Serif" font-weight="bold" font-size="5.2" fill="#2E2E3C" text-anchor="middle">CN</text>
<line x1="603.30" y1="52.70" x2="607.00" y2="55.50" stroke="#2E2E3C" stroke-width="1.0"/>
<line x1="603.30" y1="52.70" x2="604.80" y2="45.50" stroke="#2E2E3C" stroke-width="1.5"/>
<text x="628" y="52" font-family="Liberation Serif" font-weight="bold" font-size="5.2" fill="#2E2E3C" text-anchor="middle">COOH</text>
<line x1="567.00" y1="53.50" x2="565.50" y2="62.00" stroke="#2E2E3C" stroke-width="1.1"/>
<line x1="565.30" y1="61.33" x2="560.30" y2="62.83" stroke="#5A5AA6" stroke-width="0.9"/><line x1="565.70" y1="62.67" x2="560.70" y2="64.17" stroke="#5A5AA6" stroke-width="0.9"/>
<text x="558.3" y="65.2" font-family="Liberation Serif" font-weight="bold" font-size="4.8" fill="#5A5AA6" text-anchor="middle">O</text>
<line x1="565.50" y1="62.00" x2="569.00" y2="65.00" stroke="#5A5AA6" stroke-width="1.1"/>
<text x="571.5" y="69" font-family="Liberation Serif" font-weight="bold" font-size="4.8" fill="#5A5AA6" text-anchor="middle">NH</text>
<path d="M556.00,75.00 L564.00,71.50 L573.00,73.50 L580.00,76.00 L572.00,82.00 L562.00,81.00Z" fill="none" stroke="#5A5AA6" stroke-width="1.15" stroke-linejoin="round"/>
<line x1="572.00" y1="71.00" x2="571.00" y2="66.50" stroke="#5A5AA6" stroke-width="1.0"/>
<path d="M580.00,76.00 L584.00,74.50 L587.00,76.50" fill="none" stroke="#5A5AA6" stroke-width="1.0" stroke-linejoin="round"/>
<text x="591" y="78" font-family="Liberation Serif" font-weight="bold" font-size="4.6" fill="#5A5AA6" text-anchor="middle">OH</text>
<text x="549" y="72.5" font-family="Liberation Serif" font-weight="bold" font-size="4.6" fill="#5A5AA6" text-anchor="middle">HO</text>
<text x="547.5" y="77.5" font-family="Liberation Serif" font-weight="bold" font-size="4.6" fill="#5A5AA6" text-anchor="middle">HO</text>
<line x1="551.50" y1="76.00" x2="556.00" y2="75.00" stroke="#5A5AA6" stroke-width="0.9"/>
<path d="M562.00,81.00 L561.00,86.00 L559.00,88.00" fill="none" stroke="#5A5AA6" stroke-width="1.0" stroke-linejoin="round"/>
<text x="561" y="92" font-family="Liberation Serif" font-weight="bold" font-size="4.6" fill="#5A5AA6" text-anchor="middle">OH</text>
<text x="574" y="80" font-family="Liberation Serif" font-weight="bold" font-size="4.2" fill="#5A5AA6" text-anchor="middle">O</text>
<line x1="587.00" y1="53.50" x2="587.00" y2="59.70" stroke="#62B83E" stroke-width="1.1"/>
<line x1="586.63" y1="59.11" x2="582.13" y2="61.91" stroke="#62B83E" stroke-width="0.9"/><line x1="587.37" y1="60.29" x2="582.87" y2="63.09" stroke="#62B83E" stroke-width="0.9"/>
<text x="580.9" y="65.2" font-family="Liberation Serif" font-weight="bold" font-size="4.8" fill="#62B83E" text-anchor="middle">O</text>
<line x1="587.00" y1="59.70" x2="591.50" y2="62.50" stroke="#62B83E" stroke-width="1.1"/>
<text x="593" y="65.2" font-family="Liberation Serif" font-weight="bold" font-size="4.8" fill="#62B83E" text-anchor="middle">O</text>
<line x1="595.00" y1="65.00" x2="599.00" y2="68.50" stroke="#62B83E" stroke-width="1.0"/>
<path d="M610.80,75.00 L606.90,81.75 L599.10,81.75 L595.20,75.00 L599.10,68.25 L606.90,68.25Z" fill="none" stroke="#62B83E" stroke-width="1.15" stroke-linejoin="round"/><line x1="608.62" y1="75.00" x2="605.81" y2="79.86" stroke="#62B83E" stroke-width="0.9199999999999999"/><line x1="600.19" y1="79.86" x2="597.38" y2="75.00" stroke="#62B83E" stroke-width="0.9199999999999999"/><line x1="600.19" y1="70.14" x2="605.81" y2="70.14" stroke="#62B83E" stroke-width="0.9199999999999999"/>
<path d="M606.90,81.75 L599.10,81.75 L595.20,88.51" fill="none" stroke="#62B83E" stroke-width="1.15" stroke-linejoin="round"/>
<path d="M606.90,95.26 L599.10,95.26 L595.20,88.51" fill="none" stroke="#62B83E" stroke-width="1.15" stroke-linejoin="round"/>
<path d="M606.90,81.75 L610.80,88.51 L606.90,95.26" fill="none" stroke="#62B83E" stroke-width="1.15" stroke-linejoin="round"/>
<circle cx="595.20" cy="88.51" r="1.8" fill="#F7FEFE"/>
<text x="595.2" y="90.10999629903723" font-family="Liberation Serif" font-weight="bold" font-size="4.6" fill="#62B83E" text-anchor="middle">O</text>
<path d="M610.80,102.02 L606.90,108.77 L599.10,108.77 L595.20,102.02 L599.10,95.26 L606.90,95.26Z" fill="none" stroke="#62B83E" stroke-width="1.15" stroke-linejoin="round"/><line x1="608.62" y1="102.02" x2="605.81" y2="106.88" stroke="#62B83E" stroke-width="0.9199999999999999"/><line x1="600.19" y1="106.88" x2="597.38" y2="102.02" stroke="#62B83E" stroke-width="0.9199999999999999"/><line x1="600.19" y1="97.16" x2="605.81" y2="97.16" stroke="#62B83E" stroke-width="0.9199999999999999"/>
<text x="591" y="115" font-family="Liberation Serif" font-weight="bold" font-size="4.6" fill="#62B83E" text-anchor="middle">HO</text>
<line x1="599.00" y1="109.50" x2="595.00" y2="112.00" stroke="#62B83E" stroke-width="1.0"/>
<path d="M610.80,88.51 L616.50,82.50 L624.50,81.00 L625.50,92.40 L618.50,92.40Z" fill="none" stroke="#62B83E" stroke-width="1.15" stroke-linejoin="round"/>
<line x1="624.90" y1="81.57" x2="629.90" y2="78.07" stroke="#62B83E" stroke-width="0.9"/><line x1="624.10" y1="80.43" x2="629.10" y2="76.93" stroke="#62B83E" stroke-width="0.9"/>
<circle cx="616.5" cy="82.5" r="1.8" fill="#F7FEFE"/>
<text x="616.5" y="84" font-family="Liberation Serif" font-weight="bold" font-size="4.4" fill="#62B83E" text-anchor="middle">O</text>
<text x="632" y="78.5" font-family="Liberation Serif" font-weight="bold" font-size="4.6" fill="#62B83E" text-anchor="middle">O</text>
<path d="M629.00,98.50 L625.50,104.56 L618.50,104.56 L615.00,98.50 L618.50,92.44 L625.50,92.44Z" fill="none" stroke="#62B83E" stroke-width="1.15" stroke-linejoin="round"/><line x1="627.04" y1="98.50" x2="624.52" y2="102.86" stroke="#62B83E" stroke-width="0.9199999999999999"/><line x1="619.48" y1="102.86" x2="616.96" y2="98.50" stroke="#62B83E" stroke-width="0.9199999999999999"/><line x1="619.48" y1="94.14" x2="624.52" y2="94.14" stroke="#62B83E" stroke-width="0.9199999999999999"/>
<path d="M477.30,69.30 L483.40,72.10 L482.50,79.50 L476.00,80.50 L472.80,75.00Z" fill="none" stroke="#4AA0DA" stroke-width="0.9" stroke-linejoin="round"/>
<text x="470" y="76" font-family="Liberation Serif" font-weight="bold" font-size="3.6" fill="#4AA0DA" text-anchor="middle">N</text>
<text x="474.5" y="82.5" font-family="Liberation Serif" font-weight="bold" font-size="3.6" fill="#4AA0DA" text-anchor="middle">N</text>
<line x1="482.50" y1="79.50" x2="480.00" y2="105.00" stroke="#2E7BC0" stroke-width="1.1"/>
<path d="M478.5,89.5 L482,93 L485.5,89.5" fill="none" stroke="#2E7BC0" stroke-width="1.5"/>
<text x="57" y="146" font-family="Liberation Sans" font-weight="bold" font-size="15.8" fill="#111" text-anchor="middle">Dendritic cell</text>
<text x="57" y="164.5" font-family="Liberation Sans" font-weight="bold" font-size="15.8" fill="#111" text-anchor="middle">vaccine (DCV)</text>
<text x="199.2" y="154.7" font-family="Liberation Sans" font-weight="bold" font-size="15.8" fill="#111" text-anchor="middle">Azide labeled DCV</text>
<text x="468.7" y="171.5" font-family="Liberation Sans" font-weight="bold" font-size="15.8" fill="#111" text-anchor="middle">Glycopolymer-engineered DCV (G-DCV)</text>
<rect x="5" y="243.9" width="188.2" height="122.6" rx="12" fill="#F4F8FC" stroke="#1a1a1a" stroke-width="1.7" stroke-dasharray="3.3 2.3"/>
<use href="#tc" transform="translate(37 310) rotate(0) scale(1.84)"/>
<line x1="57.8" y1="291.7" x2="65" y2="291.7" stroke="#999" stroke-width="0.7"/>
<line x1="86" y1="291.7" x2="93.5" y2="291.7" stroke="#D88448" stroke-width="0.8"/>
<path d="M64.40,289.10 L67.80,294.30 M67.80,289.10 L64.40,294.30 M67.80,289.10 L71.20,294.30 M71.20,289.10 L67.80,294.30 M71.20,289.10 L74.60,294.30 M74.60,289.10 L71.20,294.30 M74.60,289.10 L78.00,294.30 M78.00,289.10 L74.60,294.30 M78.00,289.10 L81.40,294.30 M81.40,289.10 L78.00,294.30 M81.40,289.10 L84.80,294.30 M84.80,289.10 L81.40,294.30 " fill="none" stroke="#CF6E2C" stroke-width="1.2"/><line x1="64.4" y1="291.7" x2="87.9" y2="291.7" stroke="#CF6E2C" stroke-width="1.6"/>
<rect x="62" y="306.8" width="8.5" height="4.7" fill="#F6F6F6" stroke="#8A8A8A" stroke-width="0.6"/>
<rect x="70.5" y="305.8" width="13.2" height="6.6" rx="0.8" fill="#2C6E9B"/>
<rect x="71.5" y="308.4" width="11.5" height="1.4" fill="#6AA8D0"/>
<use href="#dc" transform="translate(155.2 310.8) rotate(0) scale(1.02)"/>
<line x1="115" y1="309.2" x2="131" y2="309.2" stroke="#9a9a9a" stroke-width="0.8"/>
<rect x="103" y="305.6" width="12.2" height="5.6" fill="#62288A"/>
<rect x="103" y="306.4" width="2.8" height="4" fill="#F2B63A"/>
<rect x="107.5" y="307.8" width="6.5" height="1.2" fill="#9C6CB8"/>
<text x="41.3" y="354" font-family="Liberation Sans" font-weight="bold" font-size="14.5" fill="#111" text-anchor="middle">T cell</text>
<text x="154.5" y="359.6" font-family="Liberation Sans" font-weight="bold" font-size="14.5" fill="#111" text-anchor="middle">DCV</text>
<use href="#tc" transform="translate(247 255.5) rotate(0) scale(1.0)"/>
<use href="#tc" transform="translate(280.2 279) rotate(0) scale(1.0)"/>
<use href="#tc" transform="translate(218.3 295.3) rotate(0) scale(1.0)"/>
<use href="#tc" transform="translate(310 302.7) rotate(0) scale(1.0)"/>
<use href="#tc" transform="translate(229.6 340.3) rotate(0) scale(1.0)"/>
<use href="#tc" transform="translate(294 339.7) rotate(0) scale(1.0)"/>
<use href="#dc" transform="translate(265.5 304.7) rotate(0) scale(0.58)"/>
<path d="M191,249 L258.7,297 L275.5,306" stroke="#111" stroke-width="1.6" stroke-dasharray="2.8 2.3" fill="none"/>
<path d="M192.6,356 L275.5,306" stroke="#111" stroke-width="1.6" stroke-dasharray="2.8 2.3" fill="none"/>
<path d="M258.7,297 L272.4,278 L286.1,285.6 L275.5,306" stroke="#111" stroke-width="1.6" stroke-dasharray="2.8 2.3" fill="none"/>
<text x="146" y="403" font-family="Liberation Sans" font-weight="bold" font-size="15.8" fill="#111" text-anchor="middle">T cell activation by DCV</text>
<use href="#tc" transform="translate(388.5 268.5) rotate(0) scale(1.0)"/>
<use href="#tc" transform="translate(360 283) rotate(0) scale(1.0)"/>
<use href="#tc" transform="translate(419 280.4) rotate(0) scale(1.0)"/>
<use href="#tc" transform="translate(357.5 309.7) rotate(0) scale(1.0)"/>
<use href="#tc" transform="translate(420.5 309.7) rotate(0) scale(1.0)"/>
<use href="#tc" transform="translate(388.2 322.3) rotate(0) scale(1.0)"/>
<use href="#gp" transform="translate(398.5 284) rotate(-58.7) scale(0.55)"/>
<use href="#gp" transform="translate(402 295.2) rotate(0) scale(0.55)"/>
<use href="#gp" transform="translate(378.5 306) rotate(128.5) scale(0.55)"/>
<use href="#gp" transform="translate(393 308) rotate(62) scale(0.55)"/>
<use href="#gp" transform="translate(376.5 295.5) rotate(180) scale(0.55)"/>
<use href="#gp" transform="translate(381 284) rotate(224) scale(0.55)"/>
<use href="#dc" transform="translate(389.6 295.5) rotate(0) scale(0.56)"/>
<path d="M455.9,248.3 L390.1,286 L369.4,278.5 L362.9,292.6 L383.5,301 L390.1,286" stroke="#111" stroke-width="1.6" stroke-dasharray="2.8 2.3" fill="none"/>
<path d="M383.5,301 L454.1,357.3" stroke="#111" stroke-width="1.6" stroke-dasharray="2.8 2.3" fill="none"/>
<rect x="454" y="244.1" width="182" height="123" rx="12" fill="#F4F8FC" stroke="#1a1a1a" stroke-width="1.7" stroke-dasharray="3.3 2.3"/>
<use href="#dc" transform="translate(516.3 307.5) rotate(0) scale(1.0)"/>
<use href="#gp" transform="translate(496 292.5) rotate(217) scale(1.0)"/>
<use href="#gp" transform="translate(521.5 282.5) rotate(-66) scale(0.95)"/>
<use href="#gp" transform="translate(496.5 320.5) rotate(142) scale(0.95)"/>
<use href="#gp" transform="translate(526 329) rotate(58) scale(0.9)"/>
<use href="#tc" transform="translate(610.2 306.8) rotate(0) scale(1.82)"/>
<path d="M559.00,286.10 L562.60,290.70 M562.60,286.10 L559.00,290.70 M562.60,286.10 L566.20,290.70 M566.20,286.10 L562.60,290.70 M566.20,286.10 L569.80,290.70 M569.80,286.10 L566.20,290.70 M569.80,286.10 L573.40,290.70 M573.40,286.10 L569.80,290.70 M573.40,286.10 L577.00,290.70 M577.00,286.10 L573.40,290.70 M577.00,286.10 L580.60,290.70 M580.60,286.10 L577.00,290.70 M580.60,286.10 L584.20,290.70 M584.20,286.10 L580.60,290.70 M584.20,286.10 L587.80,290.70 M587.80,286.10 L584.20,290.70 " fill="none" stroke="#CF6E2C" stroke-width="1.2"/><line x1="559" y1="288.4" x2="589.3" y2="288.4" stroke="#CF6E2C" stroke-width="1.6"/>
<line x1="548.2" y1="295.5" x2="566" y2="295.5" stroke="#5B8DB8" stroke-width="1.3"/>
<path d="M560.5,292 L557,295.5 L560.5,299" fill="none" stroke="#3D74A3" stroke-width="1.6"/>
<line x1="566.3" y1="293" x2="585.3" y2="293" stroke="#999" stroke-width="0.5"/><circle cx="566.30" cy="293.00" r="2.2" fill="#8A2233"/><circle cx="572.63" cy="293.00" r="2.2" fill="#8A2233"/><circle cx="578.97" cy="293.00" r="2.2" fill="#8A2233"/><circle cx="585.30" cy="293.00" r="2.2" fill="#8A2233"/>
<circle cx="566.30" cy="293" r="0.8" fill="#C87080"/>
<circle cx="572.63" cy="293" r="0.8" fill="#C87080"/>
<circle cx="578.96" cy="293" r="0.8" fill="#C87080"/>
<circle cx="585.29" cy="293" r="0.8" fill="#C87080"/>
<line x1="538" y1="305.6" x2="548.2" y2="305.6" stroke="#9a9a9a" stroke-width="0.8"/>
<rect x="548.2" y="302.8" width="11.5" height="5.8" fill="#6A2E8C"/>
<rect x="555.5" y="303.4" width="4.2" height="4.6" fill="#F2B63A"/>
<rect x="566.3" y="302.8" width="13.1" height="6.6" rx="0.8" fill="#2C6E9B"/>
<rect x="567" y="305.3" width="11.5" height="1.4" fill="#6AA8D0"/>
<rect x="579.4" y="303.6" width="6" height="4.6" fill="#F6F6F6" stroke="#8A8A8A" stroke-width="0.6"/>
<text x="516.8" y="361.6" font-family="Liberation Sans" font-weight="bold" font-size="14.5" fill="#111" text-anchor="middle">G-DCV</text>
<text x="612.1" y="351" font-family="Liberation Sans" font-weight="bold" font-size="14.5" fill="#111" text-anchor="middle">T cell</text>
<text x="499.5" y="394" font-family="Liberation Sans" font-weight="bold" font-size="15.8" fill="#111" text-anchor="middle">Enhanced T cell activation through</text>
<text x="500.3" y="410.5" font-family="Liberation Sans" font-weight="bold" font-size="15.8" fill="#111" text-anchor="middle">glycopolymer-mediated cell adhesion</text>
</svg>
</body></html>
